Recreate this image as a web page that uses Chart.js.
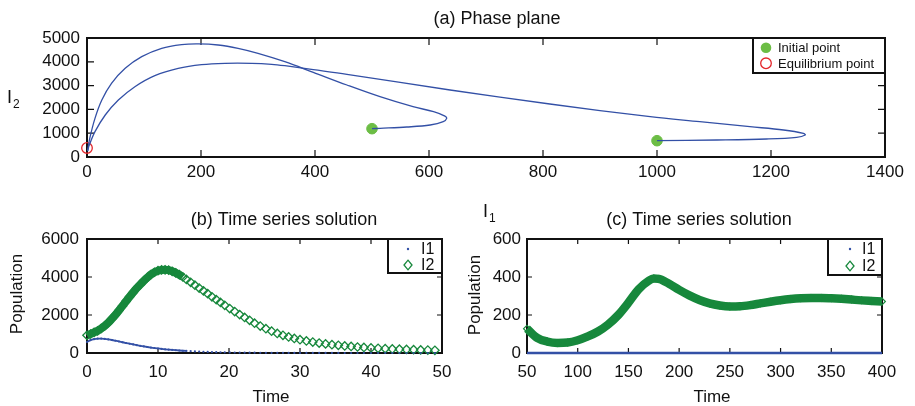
<!DOCTYPE html>
<html>
<head>
<meta charset="utf-8">
<script src="https://cdn.jsdelivr.net/npm/chart.js@4.4.1/dist/chart.umd.min.js"></script>
<style>
    html, body { margin: 0; padding: 0; background: #fff; }
    #wrap { position: relative; width: 915px; height: 406px; }
    #wrap canvas { position: absolute; left: 0; top: 0; }
</style>
</head>
<body>
<div id="wrap">
    <canvas id="chartPhase" width="915" height="406"></canvas>
    <canvas id="chartSeriesB" width="915" height="406"></canvas>
    <canvas id="chartSeriesC" width="915" height="406"></canvas>
</div>
<script>
/**
 * Phase plane + two time series panels, drawn as three overlaid Chart.js charts.
 */

// ---- data: (a) phase plane, I1 on x, I2 on y ----
const traj1I1 = [500, 514, 561, 602, 625, 631, 628, 608, 572, 514, 456, 397, 347, 300, 265, 230, 195, 166, 131, 96, 67, 43, 26, 14, 5, 1];
const traj1I2 = [1190, 1205, 1260, 1345, 1485, 1625, 1720, 1905, 2115, 2535, 3025, 3557, 4005, 4355, 4565, 4705, 4750, 4720, 4565, 4215, 3725, 3095, 2395, 1625, 800, 250];
const traj2I1 = [1000, 1105, 1192, 1245, 1260, 1257, 1222, 1163, 1075, 988, 812, 637, 456, 397, 347, 324, 289, 242, 201, 160, 119, 84, 55, 32, 14, 4, 1];
const traj2I2 = [685, 714, 756, 827, 925, 995, 1135, 1275, 1485, 1695, 2227, 2815, 3473, 3670, 3835, 3895, 3935, 3935, 3880, 3725, 3420, 2955, 2395, 1765, 1065, 500, 250];
const initI1 = [500, 1000];
const initI2 = [1190, 685];
const equilI1 = [0];
const equilI2 = [380];
const phaseLegend = ['Initial point', 'Equilibrium point'];
const phaseXTicks = [0, 200, 400, 600, 800, 1000, 1200, 1400];
const phaseYTicks = [0, 1000, 2000, 3000, 4000, 5000];

// ---- data: (b) time series 0..50 ----
const timeB = [0, 0.5, 1, 1.5, 2, 2.5, 3, 3.5, 4, 4.5, 5, 5.5, 6, 6.5, 7, 7.5, 8, 8.5, 9, 9.5, 10, 10.5, 11, 11.5, 12, 12.5, 13, 13.5, 14,
    14.6, 15.2, 15.8, 16.4, 17.0, 17.6, 18.2, 18.8, 19.4, 20.1, 20.8, 21.5, 22.2, 22.9, 23.6,
    24.4, 25.2, 26.0, 26.8, 27.6, 28.4, 29.2, 30.0, 30.9, 31.8, 32.7, 33.6, 34.5, 35.4, 36.3, 37.2, 38.1, 39.0,
    40, 41, 42, 43, 44, 45, 46, 47, 48, 49];
const i1B = [580, 680, 730, 755, 757, 742, 716, 684, 646, 606, 566, 526, 488, 450, 414, 380, 347, 316, 288, 262, 238, 216, 196, 178, 161, 146, 132, 119, 108,
    96, 85, 75, 66, 58, 51, 45, 40, 35, 30, 26, 23, 20, 17, 15,
    13, 11, 9, 8, 7, 6, 5, 4, 4, 3, 3, 2, 2, 2, 1, 1, 1, 1,
    1, 1, 1, 0, 0, 0, 0, 0, 0, 0];
const i2B = [930, 1000, 1080, 1170, 1290, 1430, 1600, 1800, 2010, 2240, 2480, 2720, 2960, 3190, 3410, 3610, 3800, 3970, 4130, 4250, 4330, 4370, 4380, 4360, 4300, 4220, 4120, 4000, 3870,
    3720, 3570, 3420, 3270, 3120, 2960, 2810, 2660, 2510, 2340, 2180, 2020, 1870, 1720, 1570,
    1420, 1280, 1150, 1030, 930, 845, 765, 700, 635, 575, 525, 480, 440, 405, 372, 343, 316, 292,
    268, 248, 230, 213, 199, 185, 173, 162, 152, 143];
const seriesNames = ['I1', 'I2'];
const bXTicks = [0, 10, 20, 30, 40, 50];
const bYTicks = [0, 2000, 4000, 6000];

// ---- data: (c) time series 50..400 ----
const timeC = [50, 60, 70, 80, 90, 100, 110, 120, 130, 140, 150, 160, 170, 175, 180, 190, 200, 210, 220, 230, 240, 250, 260, 270, 280, 290, 300, 310, 320, 330, 340, 350, 360, 370, 380, 390, 400];
const i1C = [0, 0, 0, 0, 0, 0, 0, 0, 0, 0, 0, 0, 0, 0, 0, 0, 0, 0, 0, 0, 0, 0, 0, 0, 0, 0, 0, 0, 0, 0, 0, 0, 0, 0, 0, 0, 0];
const i2C = [128, 80, 60, 53, 55, 67, 87, 113, 150, 200, 265, 335, 380, 392, 390, 364, 332, 303, 279, 261, 250, 245, 246, 252, 261, 270, 278, 284, 288, 290, 290, 288, 285, 281, 277, 274, 271];
const cXTicks = [50, 100, 150, 200, 250, 300, 350, 400];
const cYTicks = [0, 200, 400, 600];

const colors = {
    ink: '#111111',
    blue: '#3350a6',
    green: '#17883c',
    lightGreen: '#6cbd45',
    red: '#e3262b',
};
const FONT = '"Liberation Sans", Arial, sans-serif';

Chart.defaults.font.family = FONT;
Chart.defaults.color = colors.ink;

function toPoints(xs, ys) {
    return xs.map((x, i) => ({ x, y: ys[i] }));
}

// MATLAB style box with inward ticks on all four sides
const framePlugin = {
    id: 'frame',
    beforeDatasetsDraw(chart, args, opts) {
        const { ctx, chartArea: a, scales } = chart;
        const len = opts.tickLen || 6;
        ctx.save();
        ctx.strokeStyle = colors.ink;
        ctx.lineWidth = 1.2;
        ctx.beginPath();
        scales.x.ticks.forEach((t) => {
            const px = scales.x.getPixelForValue(t.value);
            ctx.moveTo(px, a.bottom);
            ctx.lineTo(px, a.bottom - len);
            ctx.moveTo(px, a.top);
            ctx.lineTo(px, a.top + len);
        });
        scales.y.ticks.forEach((t) => {
            const py = scales.y.getPixelForValue(t.value);
            ctx.moveTo(a.left, py);
            ctx.lineTo(a.left + len, py);
            ctx.moveTo(a.right, py);
            ctx.lineTo(a.right - len, py);
        });
        ctx.stroke();
        ctx.lineWidth = 2;
        ctx.strokeRect(a.left, a.top, a.right - a.left, a.bottom - a.top);
        ctx.restore();
    },
};

function drawMarker(ctx, kind, x, y, color) {
    ctx.save();
    ctx.strokeStyle = color;
    ctx.fillStyle = color;
    ctx.beginPath();
    if (kind === 'dot') {
        ctx.arc(x, y, 5.3, 0, Math.PI * 2);
        ctx.fill();
    } else if (kind === 'ring') {
        ctx.lineWidth = 1.3;
        ctx.arc(x, y, 5.3, 0, Math.PI * 2);
        ctx.stroke();
    } else if (kind === 'point') {
        ctx.arc(x, y, 1.2, 0, Math.PI * 2);
        ctx.fill();
    } else if (kind === 'diamond') {
        ctx.lineWidth = 1.3;
        ctx.moveTo(x, y - 4.8);
        ctx.lineTo(x + 4, y);
        ctx.lineTo(x, y + 4.8);
        ctx.lineTo(x - 4, y);
        ctx.closePath();
        ctx.stroke();
    }
    ctx.restore();
}

function drawText(ctx, t) {
    ctx.save();
    ctx.fillStyle = colors.ink;
    ctx.font = `${t.size}px ${FONT}`;
    ctx.textAlign = t.align || 'center';
    ctx.textBaseline = t.baseline || 'alphabetic';
    ctx.translate(t.x, t.y);
    if (t.rotate) ctx.rotate(t.rotate);
    ctx.fillText(t.text, 0, 0);
    if (t.sub) {
        const w = ctx.measureText(t.text).width;
        ctx.font = `${t.subSize}px ${FONT}`;
        ctx.textAlign = 'left';
        ctx.fillText(t.sub, w + 1, t.subDy);
    }
    ctx.restore();
}

// titles, axis labels and the boxed legend inside the axes
const decorPlugin = {
    id: 'decor',
    afterDraw(chart, args, opts) {
        const { ctx, chartArea: a } = chart;
        (opts.texts || []).forEach((t) => drawText(ctx, t));
        const lg = opts.legend;
        if (!lg) return;
        const x = a.right - lg.width;
        const y = a.top;
        ctx.save();
        ctx.fillStyle = '#fff';
        ctx.fillRect(x, y, lg.width, lg.height);
        ctx.lineWidth = 2;
        ctx.strokeStyle = colors.ink;
        ctx.strokeRect(x, y, lg.width, lg.height);
        lg.items.forEach((it, i) => {
            const my = y + lg.rowY[i];
            drawMarker(ctx, it.marker, x + lg.markerX, my, it.color);
            ctx.fillStyle = colors.ink;
            ctx.font = `${lg.size}px ${FONT}`;
            ctx.textAlign = 'left';
            ctx.textBaseline = 'middle';
            ctx.fillText(it.label, x + lg.textX, my + 1);
        });
        ctx.restore();
    },
};

function axis(ticksList, min, max, opts) {
    return {
        type: 'linear',
        min,
        max,
        afterBuildTicks: (s) => {
            s.ticks = ticksList.map((v) => ({ value: v }));
        },
        afterFit: (s) => {
            if (opts.width != null) s.width = opts.width;
            if (opts.height != null) s.height = opts.height;
        },
        grid: { display: false, drawTicks: false },
        border: { display: false },
        ticks: {
            padding: opts.padding,
            autoSkip: false,
            maxRotation: 0,
            color: colors.ink,
            font: { size: 17 },
            callback: (v) => String(v),
        },
    };
}

function baseOptions(padding, xAxis, yAxis, frame, decor) {
    return {
        responsive: false,
        animation: false,
        events: [],
        layout: { padding },
        plugins: {
            legend: { display: false },
            tooltip: { enabled: false },
            frame,
            decor,
        },
        scales: { x: xAxis, y: yAxis },
    };
}

// (a) phase plane
new Chart(document.getElementById('chartPhase'), {
    type: 'scatter',
    data: {
        datasets: [
            {
                data: toPoints(traj1I1, traj1I2),
                showLine: true,
                borderColor: colors.blue,
                borderWidth: 1.3,
                pointRadius: 0,
                tension: 0.35,
            },
            {
                data: toPoints(traj2I1, traj2I2),
                showLine: true,
                borderColor: colors.blue,
                borderWidth: 1.3,
                pointRadius: 0,
                tension: 0.35,
            },
            {
                data: toPoints(initI1, initI2),
                pointRadius: 5.3,
                backgroundColor: colors.lightGreen,
                borderColor: colors.lightGreen,
                clip: false,
            },
            {
                data: toPoints(equilI1, equilI2),
                pointRadius: 5.3,
                backgroundColor: 'rgba(0,0,0,0)',
                borderColor: colors.red,
                borderWidth: 1.3,
                clip: false,
            },
        ],
    },
    options: baseOptions(
        { left: 0, right: 30, top: 38, bottom: 219 },
        axis(phaseXTicks, 0, 1400, { height: 30, padding: 5 }),
        axis(phaseYTicks, 0, 5000, { width: 87, padding: 7 }),
        { tickLen: 7 },
        {
            texts: [
                { text: '(a) Phase plane', x: 497, y: 24, size: 18 },
                { text: 'I', x: 7, y: 103, size: 18, align: 'left', sub: '2', subSize: 12, subDy: 5 },
                { text: 'I', x: 483, y: 217, size: 18, align: 'left', sub: '1', subSize: 12, subDy: 5 },
            ],
            legend: {
                width: 132,
                height: 35,
                size: 13,
                markerX: 13,
                textX: 25,
                rowY: [9.7, 25.3],
                items: [
                    { label: phaseLegend[0], marker: 'dot', color: colors.lightGreen },
                    { label: phaseLegend[1], marker: 'ring', color: colors.red },
                ],
            },
        }
    ),
    plugins: [framePlugin, decorPlugin],
});

// (b) time series, dense solver steps drawn as a thick band early on
new Chart(document.getElementById('chartSeriesB'), {
    type: 'scatter',
    data: {
        datasets: [
            {
                data: toPoints(timeB, i1B),
                showLine: true,
                borderColor: colors.blue,
                borderWidth: 1.8,
                segment: {
                    borderColor: (c) => (c.p0.parsed.x >= 14 ? 'rgba(0,0,0,0)' : colors.blue),
                },
                pointRadius: 1.1,
                pointBackgroundColor: colors.blue,
                pointBorderWidth: 0,
                cubicInterpolationMode: 'monotone',
                clip: 3,
            },
            {
                data: toPoints(timeB, i2B),
                showLine: true,
                borderColor: colors.green,
                borderWidth: 8,
                segment: {
                    borderColor: (c) => (c.p0.parsed.x >= 13.5 ? 'rgba(0,0,0,0)' : colors.green),
                },
                cubicInterpolationMode: 'monotone',
                pointStyle: 'rectRot',
                pointRadius: 4.2,
                pointBorderColor: colors.green,
                pointBackgroundColor: 'rgba(0,0,0,0)',
                pointBorderWidth: 1.3,
                clip: 6,
            },
        ],
    },
    options: baseOptions(
        { left: 0, right: 473, top: 239, bottom: 23 },
        axis(bXTicks, 0, 50, { height: 30, padding: 9 }),
        axis(bYTicks, 0, 6000, { width: 87, padding: 8 }),
        { tickLen: 5 },
        {
            texts: [
                { text: '(b) Time series solution', x: 284, y: 225, size: 18 },
                { text: 'Time', x: 271, y: 402, size: 17 },
                { text: 'Population', x: 17, y: 294, size: 17, baseline: 'middle', rotate: -Math.PI / 2 },
            ],
            legend: {
                width: 54,
                height: 34,
                size: 16,
                markerX: 20,
                textX: 33,
                rowY: [10, 26],
                items: [
                    { label: seriesNames[0], marker: 'point', color: colors.blue },
                    { label: seriesNames[1], marker: 'diamond', color: colors.green },
                ],
            },
        }
    ),
    plugins: [framePlugin, decorPlugin],
});

// (c) time series after transients
new Chart(document.getElementById('chartSeriesC'), {
    type: 'scatter',
    data: {
        datasets: [
            {
                data: toPoints(timeC, i1C),
                showLine: true,
                borderColor: colors.blue,
                borderWidth: 2.5,
                pointRadius: 0,
                clip: false,
            },
            {
                data: toPoints(timeC, i2C),
                showLine: true,
                borderColor: colors.green,
                borderWidth: 8.5,
                cubicInterpolationMode: 'monotone',
                pointStyle: 'rectRot',
                pointRadius: 3.4,
                pointBorderColor: colors.green,
                pointBackgroundColor: 'rgba(0,0,0,0)',
                pointBorderWidth: 1.2,
                clip: 6,
            },
        ],
    },
    options: baseOptions(
        { left: 467, right: 33, top: 239, bottom: 23 },
        axis(cXTicks, 50, 400, { height: 30, padding: 9 }),
        axis(cYTicks, 0, 600, { width: 60, padding: 6 }),
        { tickLen: 5 },
        {
            texts: [
                { text: '(c) Time series solution', x: 699, y: 225, size: 18 },
                { text: 'Time', x: 712, y: 402, size: 17 },
                { text: 'Population', x: 475, y: 295, size: 17, baseline: 'middle', rotate: -Math.PI / 2 },
            ],
            legend: {
                width: 54,
                height: 36,
                size: 16,
                markerX: 22,
                textX: 34,
                rowY: [10, 27],
                items: [
                    { label: seriesNames[0], marker: 'point', color: colors.blue },
                    { label: seriesNames[1], marker: 'diamond', color: colors.green },
                ],
            },
        }
    ),
    plugins: [framePlugin, decorPlugin],
});
</script>
</body>
</html>
